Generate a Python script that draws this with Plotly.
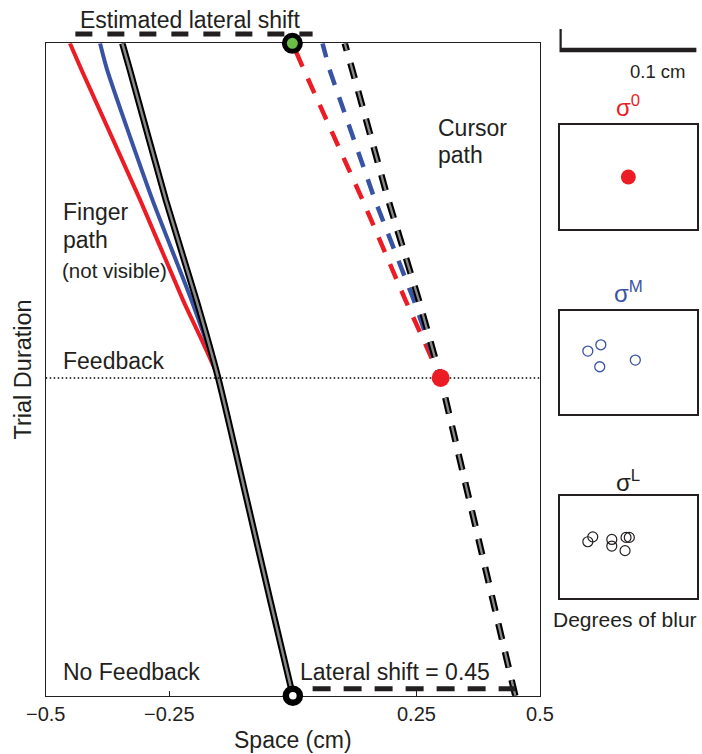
import plotly.graph_objects as go

W, H = 702, 754
FONT = "Liberation Sans, Arial, Helvetica, sans-serif"
INK = "#231f20"
RED = "#ed1c24"
BLUE = "#3953a4"
GRAY = "#8a8a8a"
GREEN = "#6cbd45"

# ---------------- data ----------------
# normalised trial time (0 = start, 1 = end of trial)
T = [0.0, 0.147, 0.30, 0.487, 0.606, 0.76, 0.96, 1.0]
# finger paths (cm) for the three blur levels
FINGER_RED = [0.0, -0.046, -0.093, -0.151, -0.222, -0.309, -0.428, -0.451]
FINGER_BLUE = [0.0, -0.046, -0.093, -0.151, -0.205, -0.284, -0.376, -0.390]
FINGER_BLACK = [0.0, -0.046, -0.093, -0.151, -0.195, -0.257, -0.330, -0.345]
SHIFT = 0.45                     # lateral shift applied to cursor
T_FEEDBACK = 0.487               # time at which feedback appears
FEEDBACK_X = [-0.5, 0.5]
EST_SHIFT_X = [-0.44, 0.04]      # "Estimated lateral shift" bar
EST_SHIFT_T = 1.0143
LAT_SHIFT_X = [0.04, 0.45]       # "Lateral shift" bar
LAT_SHIFT_T = 0.0107
XTICKS = [-0.5, -0.25, 0.25, 0.5]
XTICKTEXT = ["\u22120.5", "\u22120.25", "0.25", "0.5"]

# endpoints in the inset panels (cm, relative to target)
SIG0_X, SIG0_Y = [0.0], [0.0]
SIGM_X = [-0.0296, -0.0201, -0.0209, 0.0051]
SIGM_Y = [0.0084, 0.0130, -0.0031, 0.0018]
SIGL_X = [-0.0296, -0.0260, -0.0121, -0.0121, -0.0017, 0.0007, -0.0024]
SIGL_Y = [0.0039, 0.0075, 0.0056, 0.0007, 0.0071, 0.0071, -0.0027]
SCALE_BAR_CM = 0.1
INSET_XR = [-0.0503, 0.0503]
INSET_YR = [-0.038, 0.038]

cursor = lambda f: [v + SHIFT for v in f]

# ---------------- layout geometry ----------------
def fx(p):
    return p / W

def fy(p):
    return 1 - p / H

MX = [fx(45.7), fx(540.0)]
MY = [fy(695.7), fy(43.3)]
PX_PER_T = 695.7 - 43.3
PAD = 40
EY = [fy(695.7 + PAD), fy(43.3 - PAD)]
EYR = [-PAD / PX_PER_T, 1 + PAD / PX_PER_T]

IX = [fx(559.5), fx(697.2)]
BOX1 = [fy(229.0), fy(125.0)]
BOX2 = [fy(414.3), fy(310.7)]
BOX3 = [fy(598.3), fy(495.7)]

fig = go.Figure()

# finger paths (main subplot)
fig.add_trace(go.Scatter(x=FINGER_RED, y=T, mode="lines",
                         line=dict(color=RED, width=4, shape="spline", smoothing=0.6),
                         xaxis="x", yaxis="y"))
fig.add_trace(go.Scatter(x=FINGER_BLUE, y=T, mode="lines",
                         line=dict(color=BLUE, width=4, shape="spline", smoothing=0.6),
                         xaxis="x", yaxis="y"))
fig.add_trace(go.Scatter(x=FINGER_BLACK, y=T, mode="lines",
                         line=dict(color="black", width=6.5, shape="spline", smoothing=0.6),
                         xaxis="x", yaxis="y"))
fig.add_trace(go.Scatter(x=FINGER_BLACK, y=T, mode="lines",
                         line=dict(color=GRAY, width=2.5, shape="spline", smoothing=0.6),
                         xaxis="x", yaxis="y"))

# feedback dotted line
fig.add_trace(go.Scatter(x=FEEDBACK_X, y=[T_FEEDBACK, T_FEEDBACK], mode="lines",
                         line=dict(color="black", width=1.5, dash="1.5px,2.5px"),
                         xaxis="x", yaxis="y"))

# cursor paths (dashed)
DASH = "16px,13px"
fig.add_trace(go.Scatter(x=cursor(FINGER_RED), y=T, mode="lines",
                         line=dict(color=RED, width=4.5, dash=DASH), xaxis="x", yaxis="y"))
fig.add_trace(go.Scatter(x=cursor(FINGER_BLUE), y=T, mode="lines",
                         line=dict(color=BLUE, width=4.5, dash=DASH), xaxis="x", yaxis="y"))
fig.add_trace(go.Scatter(x=cursor(FINGER_BLACK), y=T, mode="lines",
                         line=dict(color="black", width=6.5, dash=DASH), xaxis="x", yaxis="y"))
fig.add_trace(go.Scatter(x=cursor(FINGER_BLACK), y=T, mode="lines",
                         line=dict(color=GRAY, width=2.3, dash=DASH), xaxis="x", yaxis="y"))

# extended (unclipped) overlay: shift bars and markers
fig.add_trace(go.Scatter(x=EST_SHIFT_X, y=[EST_SHIFT_T] * 2, mode="lines",
                         line=dict(color=INK, width=5, dash="17px,15px"),
                         xaxis="x5", yaxis="y5"))
fig.add_trace(go.Scatter(x=LAT_SHIFT_X, y=[LAT_SHIFT_T] * 2, mode="lines",
                         line=dict(color=INK, width=5, dash="18px,13px"),
                         xaxis="x5", yaxis="y5"))
# red dot: cursor position at feedback
fig.add_trace(go.Scatter(x=[FINGER_BLACK[3] + SHIFT], y=[T_FEEDBACK], mode="markers",
                         marker=dict(color=RED, size=18, line=dict(width=0)),
                         xaxis="x5", yaxis="y5"))
# start (finger) and end (cursor) markers
fig.add_trace(go.Scatter(x=[FINGER_BLACK[0]], y=[T[0]], mode="markers",
                         marker=dict(color="white", size=14, line=dict(color="black", width=6.5)),
                         xaxis="x5", yaxis="y5"))
fig.add_trace(go.Scatter(x=[cursor(FINGER_RED)[-1]], y=[T[-1]], mode="markers",
                         marker=dict(color=GREEN, size=16, line=dict(color="black", width=5)),
                         xaxis="x5", yaxis="y5"))

# insets
fig.add_trace(go.Scatter(x=SIG0_X, y=SIG0_Y, mode="markers",
                         marker=dict(color=RED, size=15), xaxis="x2", yaxis="y2"))
fig.add_trace(go.Scatter(x=SIGM_X, y=SIGM_Y, mode="markers",
                         marker=dict(color="rgba(0,0,0,0)", size=10, line=dict(color=BLUE, width=1.3)),
                         xaxis="x3", yaxis="y3"))
fig.add_trace(go.Scatter(x=SIGL_X, y=SIGL_Y, mode="markers",
                         marker=dict(color="rgba(0,0,0,0)", size=10, line=dict(color=INK, width=1.2)),
                         xaxis="x4", yaxis="y4"))

main_axis = dict(showgrid=False, zeroline=False, showline=True, linecolor=INK,
                 linewidth=1.3, mirror=True, automargin=False)
inset_axis = dict(showgrid=False, zeroline=False, showline=True, linecolor=INK,
                  linewidth=1.6, mirror=True, showticklabels=False, ticks="",
                  automargin=False)
hidden = dict(visible=False, showgrid=False, zeroline=False, fixedrange=True,
              automargin=False)

fig.update_layout(
    width=W, height=H, margin=dict(l=0, r=0, t=0, b=0, autoexpand=False),
    paper_bgcolor="white", plot_bgcolor="rgba(0,0,0,0)",
    showlegend=False,
    font=dict(family=FONT, color=INK, size=20),
    xaxis=dict(main_axis, domain=MX, range=[-0.5, 0.5], anchor="y",
               tickvals=XTICKS, ticktext=XTICKTEXT, ticks="inside", ticklen=5,
               tickwidth=1, tickcolor=INK, tickfont=dict(size=20, color=INK)),
    yaxis=dict(main_axis, domain=MY, range=[0, 1], anchor="x",
               showticklabels=False, ticks=""),
    xaxis5=dict(hidden, domain=MX, range=[-0.5, 0.5], anchor="y5"),
    yaxis5=dict(hidden, domain=EY, range=EYR, anchor="x5"),
    xaxis2=dict(inset_axis, domain=IX, range=INSET_XR, anchor="y2"),
    yaxis2=dict(inset_axis, domain=BOX1, range=INSET_YR, anchor="x2"),
    xaxis3=dict(inset_axis, domain=IX, range=INSET_XR, anchor="y3"),
    yaxis3=dict(inset_axis, domain=BOX2, range=INSET_YR, anchor="x3"),
    xaxis4=dict(inset_axis, domain=IX, range=INSET_XR, anchor="y4"),
    yaxis4=dict(inset_axis, domain=BOX3, range=INSET_YR, anchor="x4"),
)

# scale bar (0.1 cm in inset units)
sb_y0, sb_y1 = fy(50.0), fy(29.0)
fig.add_shape(type="path", xref="x2", yref="paper",
              path=f"M {INSET_XR[0]} {sb_y1} L {INSET_XR[0]} {sb_y0} L {INSET_XR[0] + SCALE_BAR_CM} {sb_y0}",
              line=dict(color=INK, width=4.5))

def ann(text, x, y, xref="x", yref="y", size=23, color=INK, xanchor="left", yanchor="middle", **kw):
    fig.add_annotation(text=text, x=x, y=y, xref=xref, yref=yref, showarrow=False,
                       font=dict(family=FONT, size=size, color=color),
                       xanchor=xanchor, yanchor=yanchor, **kw)

ann("Estimated lateral shift", -0.208, 1.0357, xref="x5", yref="y5", xanchor="center")
ann("Cursor", 0.290, 0.870)
ann("path", 0.290, 0.8285)
ann("Finger", -0.470, 0.742)
ann("path", -0.470, 0.6985)
ann("(not visible)", -0.472, 0.6525, size=20.5)
ann("Feedback", -0.470, 0.513)
ann("No Feedback", -0.470, 0.0368)
ann("Lateral shift = 0.45", 0.0105, 0.0368)

# axis titles
ann("Space (cm)", 0.5 * (MX[0] + MX[1]), fy(740), xref="paper", yref="paper",
    xanchor="center", size=23)
ann("Trial Duration", fx(23), 0.5 * (MY[0] + MY[1]), xref="paper", yref="paper",
    xanchor="center", size=23.5, textangle=-90)

# inset labels
ann("σ<sup>0</sup>", 0.0, fy(106), xref="x2", yref="paper", xanchor="center", size=24, color=RED)
ann("σ<sup>M</sup>", 0.0, fy(292), xref="x3", yref="paper", xanchor="center", size=24, color=BLUE)
ann("σ<sup>L</sup>", 0.0, fy(481), xref="x4", yref="paper", xanchor="center", size=24, color=INK)
ann("0.1 cm", 0.0, fy(72), xref="x2", yref="paper", xanchor="left", size=18.5, xshift=0)
ann("Degrees of blur", fx(625), fy(619), xref="paper", yref="paper", xanchor="center", size=21)

fig.write_html("out.html")
